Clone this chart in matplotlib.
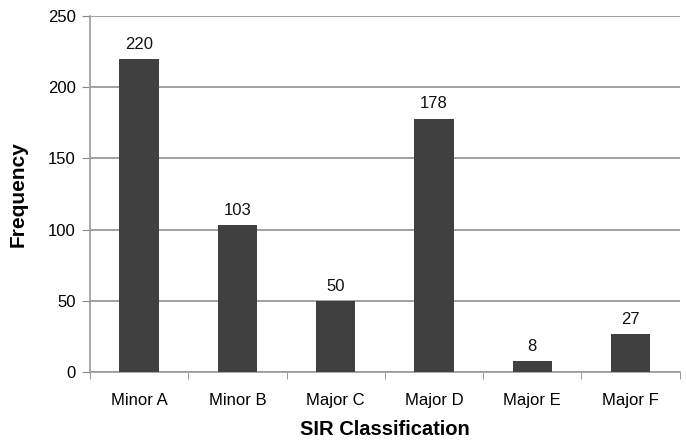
import matplotlib.pyplot as plt
import numpy as np

plt.rcParams['font.family'] = ['Liberation Sans', 'DejaVu Sans']

# SIR classes and their counts
categories = ['Minor A', 'Minor B', 'Major C', 'Major D', 'Major E', 'Major F']
frequency = [220, 103, 50, 178, 8, 27]

fig = plt.figure(figsize=(6.86, 4.42), dpi=100)
ax = fig.add_axes([0.131, 0.158, 0.86, 0.806])

x = np.arange(len(categories))
bars = ax.bar(x, frequency, width=0.4, color='#404040', zorder=3)

# value labels over each bar
for xi, v in zip(x, frequency):
    ax.text(xi, v + 5, str(v), ha='center', va='bottom', fontsize=12, color='#111111')

ax.set_xlim(-0.5, len(categories) - 0.5)
ax.set_ylim(0, 250)
ax.set_yticks(np.arange(0, 251, 50))
ax.set_xticks(x)
ax.set_xticklabels(categories, fontsize=12)
ax.tick_params(axis='y', labelsize=12, length=6, color='#888888', pad=4)
# category separators as ticks between bars
ax.set_xticks(np.arange(-0.5, len(categories)), minor=True)
ax.tick_params(axis='x', which='major', length=0, pad=15)
ax.tick_params(axis='x', which='minor', length=5, color='#888888')

ax.yaxis.grid(True, color='#999999', linewidth=1.3, zorder=0)
for s in ['top', 'right']:
    ax.spines[s].set_visible(False)
ax.spines['left'].set_color('#999999')
ax.spines['bottom'].set_color('#999999')
ax.spines['left'].set_linewidth(1.2)
ax.spines['bottom'].set_linewidth(1.2)

ax.set_xlabel('SIR Classification', fontsize=14.5, fontweight='bold', labelpad=9)
ax.set_ylabel('Frequency', fontsize=15, fontweight='bold', labelpad=15)

fig.savefig('out.png', dpi=100)
